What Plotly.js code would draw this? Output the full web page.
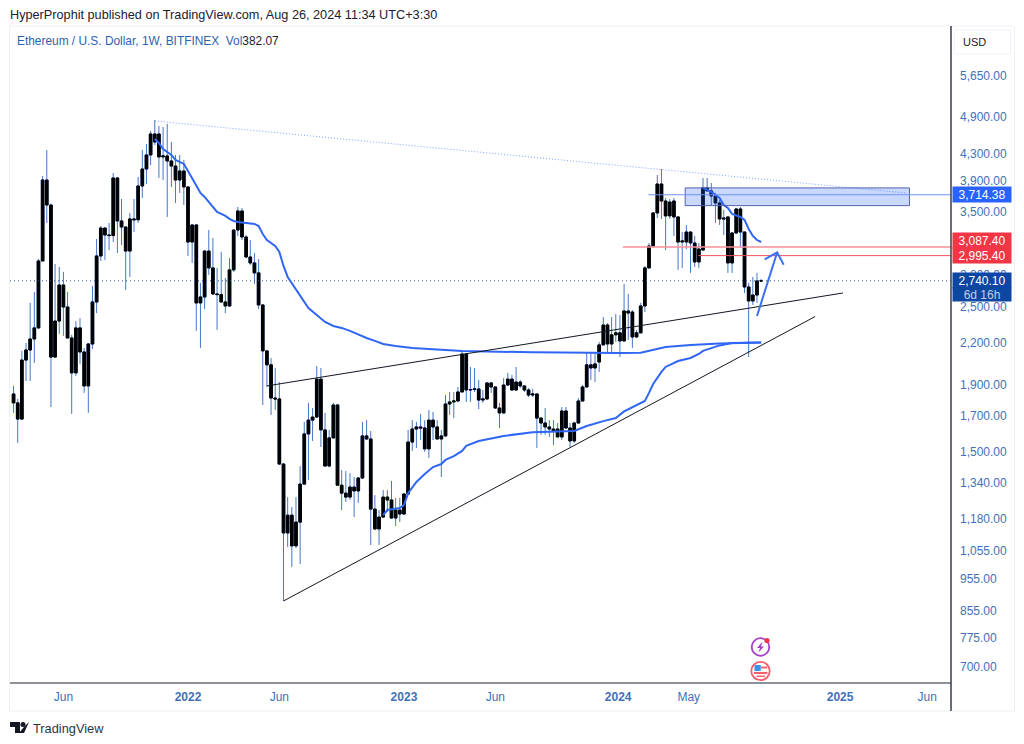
<!DOCTYPE html>
<html><head><meta charset="utf-8">
<script src="https://cdn.plot.ly/plotly-3.0.1.min.js"></script>
<style>html,body{margin:0;padding:0;background:#fff}#c{width:1024px;height:744px}</style>
</head><body><div id="c"></div>
<script>
const weeks=[
'2021-03-15','2021-03-22','2021-03-29','2021-04-05','2021-04-12','2021-04-19','2021-04-26','2021-05-03','2021-05-10','2021-05-17','2021-05-24','2021-05-31','2021-06-07','2021-06-14','2021-06-21','2021-06-28','2021-07-05','2021-07-12','2021-07-19','2021-07-26','2021-08-02','2021-08-09','2021-08-16','2021-08-23','2021-08-30','2021-09-06','2021-09-13','2021-09-20','2021-09-27','2021-10-04','2021-10-11','2021-10-18','2021-10-25','2021-11-01','2021-11-08','2021-11-15','2021-11-22','2021-11-29','2021-12-06','2021-12-13','2021-12-20','2021-12-27',
'2022-01-03','2022-01-10','2022-01-17','2022-01-24','2022-01-31','2022-02-07','2022-02-14','2022-02-21','2022-02-28','2022-03-07','2022-03-14','2022-03-21','2022-03-28','2022-04-04','2022-04-11','2022-04-18','2022-04-25','2022-05-02','2022-05-09','2022-05-16','2022-05-23','2022-05-30','2022-06-06','2022-06-13','2022-06-20','2022-06-27','2022-07-04','2022-07-11','2022-07-18','2022-07-25','2022-08-01','2022-08-08','2022-08-15','2022-08-22','2022-08-29','2022-09-05','2022-09-12','2022-09-19','2022-09-26','2022-10-03','2022-10-10','2022-10-17','2022-10-24','2022-10-31','2022-11-07','2022-11-14','2022-11-21','2022-11-28','2022-12-05','2022-12-12','2022-12-19','2022-12-26',
'2023-01-02','2023-01-09','2023-01-16','2023-01-23','2023-01-30','2023-02-06','2023-02-13','2023-02-20','2023-02-27','2023-03-06','2023-03-13','2023-03-20','2023-03-27','2023-04-03','2023-04-10','2023-04-17','2023-04-24','2023-05-01','2023-05-08','2023-05-15','2023-05-22','2023-05-29','2023-06-05','2023-06-12','2023-06-19','2023-06-26','2023-07-03','2023-07-10','2023-07-17','2023-07-24','2023-07-31','2023-08-07','2023-08-14','2023-08-21','2023-08-28','2023-09-04','2023-09-11','2023-09-18','2023-09-25','2023-10-02','2023-10-09','2023-10-16','2023-10-23','2023-10-30','2023-11-06','2023-11-13','2023-11-20','2023-11-27','2023-12-04','2023-12-11','2023-12-18','2023-12-25',
'2024-01-01','2024-01-08','2024-01-15','2024-01-22','2024-01-29','2024-02-05','2024-02-12','2024-02-19','2024-02-26','2024-03-04','2024-03-11','2024-03-18','2024-03-25','2024-04-01','2024-04-08','2024-04-15','2024-04-22','2024-04-29','2024-05-06','2024-05-13','2024-05-20','2024-05-27','2024-06-03','2024-06-10','2024-06-17','2024-06-24','2024-07-01','2024-07-08','2024-07-15','2024-07-22','2024-07-29','2024-08-05','2024-08-12','2024-08-19','2024-08-26'];

const open=[
1837,1780,1681,2071,2146,2231,2320,2939,3913,3582,
2093,2377,2700,2498,2239,1979,2320,2131,1890,2192,
2543,2992,3302,3222,3215,3941,3386,3314,3044,3410,
3400,3831,4068,4275,4604,4604,4245,4260,4185,4111,
3913,4040,3818,3143,3338,2534,2588,3044,2868,2616,
2610,2543,2507,2848,3279,3507,3199,2981,2919,2818,
2516,2139,2036,1811,1805,1434,1124,1197,1074,1168,
1336,1595,1675,1693,1936,1618,1424,1573,1767,1331,
1294,1276,1322,1304,1365,1584,1567,1223,1140,1189,
1276,1263,1185,1219,1202,1290,1550,1623,1635,1629,
1513,1675,1635,1567,1584,1773,1786,1792,1850,2116,
1863,1866,1870,1798,1805,1910,1883,1748,1718,1896,
1936,1863,1916,1890,1863,1830,1837,1687,1658,1635,
1623,1623,1578,1730,1629,1556,1658,1792,1883,2036,
2014,2057,2185,2344,2192,2264,2280,2216,2463,2454,
2247,2280,2507,2868,3099,3483,3858,3633,3447,3633,
3434,3143,3143,3256,3132,2929,3055,3805,3765,3698,
3608,3422,3434,2919,3245,3532,3256,2681,2552,2606,
2739];
const high=[
1890,1805,2139,2200,2534,2634,2960,3969,4351,3600,
2908,2878,2828,2634,2264,2377,2402,2162,2200,2691,
3176,3326,3314,3362,4011,3955,3659,3320,3483,3659,
3955,4351,4444,4653,4838,4736,4719,4770,4476,4275,
4275,4200,3825,3350,3350,2720,3055,3279,3188,2868,
3034,2768,2971,3279,3557,3545,3222,3165,3023,2960,
2525,2146,2086,2014,1916,1440,1276,1232,1276,1424,
1664,1780,1748,2028,2014,1718,1618,1780,1773,1404,
1399,1389,1370,1370,1664,1675,1612,1285,1219,1308,
1308,1351,1272,1272,1294,1618,1675,1664,1712,1675,
1736,1724,1675,1618,1830,1850,1850,1883,2139,2122,
2021,2014,1930,1863,1916,1916,1888,1780,1943,1979,
1965,2021,1930,1896,1876,1870,1840,1693,1748,1675,
1675,1658,1754,1754,1658,1664,1811,1896,2124,2124,
2124,2208,2411,2360,2411,2437,2428,2710,2616,2471,
2304,2534,2888,3132,3495,3983,4068,3672,3659,3672,
3440,3256,3338,3260,3211,3132,3941,3941,3872,3738,
3646,3520,3440,3256,3545,3557,3260,2720,2778,2818,
2759];
const low=[
1718,1545,1675,1923,1923,2050,2312,2939,3362,1754,
2086,2272,2256,2239,1712,1958,2043,1844,1718,2154,
2445,2939,2950,3055,3143,3023,3110,2653,2778,3256,
3362,3672,3858,4126,4428,3941,3913,3434,3818,3608,
3738,3582,2992,2919,2296,2162,2480,2798,2606,2304,
2534,2445,2498,2828,3211,3165,2971,2898,2710,2480,
1767,1883,1706,1736,1429,884,1070,997,1066,1007,
1331,1356,1556,1687,1523,1419,1419,1567,1327,1219,
1254,1263,1189,1250,1360,1561,1077,1136,1077,1185,
1210,1181,1152,1168,1197,1285,1502,1518,1561,1497,
1465,1561,1561,1370,1578,1706,1687,1786,1850,1786,
1786,1850,1742,1780,1798,1844,1742,1629,1712,1890,
1857,1857,1876,1850,1817,1817,1518,1590,1590,1578,
1534,1578,1561,1623,1523,1545,1655,1786,1880,1930,
1916,1986,2180,2124,2124,2208,2093,2208,2223,2162,
2239,2276,2454,2860,3088,3422,3410,3055,3410,3211,
2848,2868,3066,2818,2878,2868,3055,3760,3582,3362,
3338,3222,2818,2818,3235,3088,2625,2093,2516,2534,
2730];
const close=[
1780,1681,2071,2146,2231,2320,2939,3913,3582,2093,
2377,2700,2498,2239,1979,2320,2131,1890,2192,2543,
2992,3302,3222,3215,3941,3386,3314,3044,3410,3400,
3831,4068,4275,4604,4476,4245,4260,4185,4111,3913,
4040,3818,3143,3338,2534,2588,3044,2868,2616,2610,
2543,2507,2848,3279,3507,3199,2981,2919,2818,2516,
2139,2036,1811,1805,1434,1124,1197,1074,1168,1336,
1595,1675,1693,1936,1618,1424,1573,1767,1331,1294,
1276,1322,1304,1365,1584,1567,1223,1140,1189,1276,
1263,1185,1219,1202,1290,1550,1623,1635,1629,1513,
1675,1635,1567,1584,1773,1786,1792,1850,2116,1863,
1866,1870,1798,1805,1910,1883,1748,1718,1896,1936,
1863,1916,1890,1863,1830,1837,1687,1658,1635,1623,
1612,1578,1730,1629,1556,1658,1792,1883,2036,2014,
2043,2185,2344,2192,2264,2280,2216,2463,2445,2247,
2280,2507,2868,3099,3483,3858,3633,3447,3620,3434,
3143,3154,3256,3132,2929,3066,3805,3765,3698,3608,
3410,3410,2919,3245,3532,3256,2681,2552,2606,2739,
2740.1];

// anchored averages: week number into `weeks`, and price
const vwapTopWeek=[34,35,36,37,38,39,40,41,42,43,44,45,46,47,48,49,50,51,52,53,54,56,58,59,60,61,62,63,64,65,66,67,68,69,71,73,75,77,79,81,83,85,87,89,92,96,100,108,125,135,146,151,154,157,160,163,170,174,180];
const vwapTopPrice=[4523,4460,4366,4321,4275,4200,4170,4141,4040,3941,3831,3738,3685,3620,3557,3495,3471,3447,3410,3386,3374,3362,3350,3326,3233,3165,3132,3099,3034,2888,2778,2720,2662,2597,2489,2428,2369,2336,2320,2296,2264,2239,2216,2192,2177,2162,2154,2139,2128,2124,2124,2126,2146,2169,2177,2185,2196,2201,2204];
const vwapLowWeek=[89,90,93,94,95,97,99,101,103,104,106,108,109,112,118,122,125,135,138,142,145,147,152,153,154,156,157,160,163,165,166,170,173,180];
const vwapLowPrice=[1197,1219,1228,1241,1294,1346,1384,1419,1434,1455,1475,1502,1529,1556,1584,1595,1604,1612,1640,1669,1687,1727,1792,1844,1903,1986,2021,2064,2086,2116,2139,2181,2200,2204];
const vwapRecentWeek=[166,168,170,171,172,173,175,176,177,178,179,180];
const vwapRecentPrice=[3805,3752,3672,3582,3545,3471,3434,3398,3291,3211,3165,3143];

const supportDates=['2022-06-13','2024-11-25'], supportPrices=[884,2415];
const wedgeDates=['2022-05-16','2025-01-11'], wedgePrices=[1890,2625];
const topDates=['2021-11-08','2025-04-26'], topPrices=[4820,3738];
const zoneDates=['2024-04-20','2025-05-03'], zonePrices=[3574,3805];
const arrowShaftDates=['2024-08-19','2024-09-22'], arrowShaftPrices=[2420,3030];
const arrowHeadDates=['2024-09-01','2024-09-22','2024-10-03'], arrowHeadPrices=[2957,3030,2900];

const xStart='2021-03-09', xEnd='2025-07-12';
const yMin=661.5, yMax=6743;
const lastPrice=2740.10, bluePrice=3714.38, redHigh=3087.40, redLow=2995.40;
const blueFrom='2024-02-18', redHighFrom='2024-01-06', redLowFrom='2024-05-12';

const yTickVals=[5650,4900,4300,3900,3500,2800,2500,2200,1900,1700,1500,1340,1180,1055,955,855,775,700];
const yTickText=['5,650.00','4,900.00','4,300.00','3,900.00','3,500.00','2,800.00','2,500.00','2,200.00','1,900.00','1,700.00','1,500.00','1,340.00','1,180.00','1,055.00','955.00','855.00','775.00','700.00'];
const xTickVals=['2021-06-07','2022-01-03','2022-06-06','2023-01-02','2023-06-05','2023-12-29','2024-04-26','2025-01-06','2025-06-02'];
const xTickText=['Jun','<b>2022</b>','Jun','<b>2023</b>','Jun','<b>2024</b>','May','<b>2025</b>','Jun'];

const FONT='"Liberation Sans", Arial, sans-serif';
const AXIS='#4470b8', WICK='#4478c4', LINE='#2f66f5', INK='#131722';
const line=(x,y,color,width,dash)=>({type:'scatter',mode:'lines',x,y,hoverinfo:'skip',showlegend:false,line:{color,width,dash:dash||'solid'}});
const pick=w=>w.map(i=>weeks[i]);
const candle=(o,h,l,c,color)=>({type:'candlestick',x:weeks,open:o,high:h,low:l,close:c,whiskerwidth:0,hoverinfo:'skip',showlegend:false,
  increasing:{line:{color,width:1},fillcolor:color},decreasing:{line:{color,width:1},fillcolor:color}});
const bodyTop=open.map((v,i)=>Math.max(v,close[i])), bodyBot=open.map((v,i)=>Math.min(v,close[i]));

const traces=[
  line([xStart,xEnd],[lastPrice,lastPrice],'#2a4f9e',1,'1px,3px'),
  candle(open,high,low,close,WICK),
  candle(open,bodyTop,bodyBot,close,'#000000'),
  line(pick(vwapTopWeek),vwapTopPrice,LINE,2),
  line(pick(vwapLowWeek),vwapLowPrice,LINE,2),
  line(pick(vwapRecentWeek),vwapRecentPrice,LINE,2),
  line(supportDates,supportPrices,INK,1),
  line(wedgeDates,wedgePrices,INK,1),
  line(topDates,topPrices,'rgba(41,98,255,.6)',1,'1px,2px'),
  Object.assign(line([zoneDates[0],zoneDates[1],zoneDates[1],zoneDates[0],zoneDates[0]],[zonePrices[0],zonePrices[0],zonePrices[1],zonePrices[1],zonePrices[0]],'#5560b0',1),{fill:'toself',fillcolor:'rgba(41,98,255,.25)'}),
  line([blueFrom,xEnd],[bluePrice,bluePrice],'#6f93f5',1.2),
  line([redHighFrom,xEnd],[redHigh,redHigh],'#f88f98',1.6),
  line([redLowFrom,xEnd],[redLow,redLow],'#f0505c',1),
  line(arrowShaftDates,arrowShaftPrices,'#3a72f0',2),
  line(arrowHeadDates,arrowHeadPrices,'#3a72f0',2)
];

// page furniture is placed in page pixels
const PX=x=>(x-10)/941, PY=y=>(683-y)/657;
const txt=(px,py,text,size,color,extra)=>Object.assign({xref:'paper',yref:'paper',x:PX(px),y:PY(py),xanchor:'left',yanchor:'middle',text,showarrow:false,font:{family:FONT,size,color}},extra||{});
const priceTag=(price,text,bg,yshift,h)=>({xref:'paper',yref:'y',x:1,y:Math.log10(price),xanchor:'left',yanchor:'middle',xshift:1,yshift,width:58,height:h,align:'center',text,showarrow:false,bgcolor:bg,borderpad:0,font:{family:FONT,size:12,color:'#ffffff'}});
const rect=(x0,y0,x1,y1,fill,stroke,w,layer)=>({type:'rect',xref:'paper',yref:'paper',x0:PX(x0),x1:PX(x1),y0:PY(y0),y1:PY(y1),fillcolor:fill,line:{color:stroke||fill,width:w===undefined?0:w},layer:layer||'above'});
const circ=(cx,cy,r,fill,stroke,w)=>({type:'circle',xref:'paper',yref:'paper',x0:PX(cx-r),x1:PX(cx+r),y0:PY(cy-r),y1:PY(cy+r),fillcolor:fill,line:{color:stroke||fill,width:w||0}});
const poly=(pts,fill)=>({type:'path',xref:'paper',yref:'paper',path:'M'+pts.map(p=>PX(p[0])+' '+PY(p[1])).join(' L')+' Z',fillcolor:fill,line:{width:0}});
const seg=(x0,y0,x1,y1,c,w)=>({type:'line',xref:'paper',yref:'paper',x0:PX(x0),x1:PX(x1),y0:PY(y0),y1:PY(y1),line:{color:c,width:w}});

const shapes=[
  rect(9.5,26,1014.5,711,'rgba(0,0,0,0)','#eef0f5',1,'below'),
  rect(954.5,30,1010.5,54,'#ffffff','#eff2f8',1),
  seg(10,683,951,683,'#6a6d78',1.5),
  seg(951,26,951,711,'#3a3d46',1.5),
  // news marker
  circ(760.5,647,8.8,'#ffffff','#a640c8',1.8),
  poly([[762.5,641.5],[757,648],[760,648],[758.5,652.5],[764,646.5],[761,646.5]],'#a640c8'),
  circ(767,640.5,2.6,'#f7334a'),
  // flag marker
  circ(760.5,671,9.2,'#ffffff','#f7606c',1.8),
  rect(754.5,665,760.8,671,'#3b93ec'),
  rect(761,666.5,767,668.5,'#f7606c'),
  rect(754,672,767.5,674,'#f7606c'),
  rect(756.5,675.5,765,677,'#f7606c'),
  // TradingView logo
  poly([[10,722],[20,722],[20,733],[15,733],[15,727],[10,727]],'#131722'),
  circ(23,724.5,2.5,'#131722'),
  poly([[24,727],[29,722],[29,722],[24,733],[19,733]],'#131722')
];
const annotations=[
  txt(8,15,'HyperProphit published on TradingView.com, Aug 26, 2024 11:34 UTC+3:30',12.7,'#1c2030'),
  txt(15,41,'Ethereum / U.S. Dollar, 1W, BITFINEX  Vol<span style="color:#1c2030">382.07</span>',11.9,'#2d62b0'),
  txt(961,42,'USD',11,'#1c2030'),
  txt(31,728,'TradingView',12.8,'#30343f'),
  priceTag(bluePrice,'3,714.38','#2962ff',0,15),
  priceTag(redHigh,'3,087.40','#f23645',6.5,15),
  priceTag(redLow,'2,995.40','#f23645',0.5,15),
  priceTag(lastPrice,'2,740.10','#0d47a1',0,15),
  priceTag(lastPrice,'<span style="color:#c4cde6">6d 16h</span>','#0d47a1',-13.5,13)
];

const layout={
  width:1024,height:744,margin:{l:10,r:73,t:26,b:61,pad:0},
  paper_bgcolor:'#fff',plot_bgcolor:'#fff',showlegend:false,
  boxmode:'overlay',boxgap:0.1,
  font:{family:FONT,size:12,color:AXIS},
  xaxis:{type:'date',range:[xStart,xEnd],showgrid:false,zeroline:false,rangeslider:{visible:false},
    tickmode:'array',tickvals:xTickVals,ticktext:xTickText,ticks:'',showline:false,ticklabelstandoff:5,
    tickfont:{family:FONT,size:12,color:AXIS}},
  yaxis:{type:'log',side:'right',range:[Math.log10(yMin),Math.log10(yMax)],showgrid:false,zeroline:false,
    tickmode:'array',tickvals:yTickVals,ticktext:yTickText,ticks:'',showline:false,ticklabelstandoff:8,
    tickfont:{family:FONT,size:12,color:AXIS}},
  shapes,annotations
};
Plotly.newPlot('c',traces,layout,{displayModeBar:false,staticPlot:true});
</script></body></html>
